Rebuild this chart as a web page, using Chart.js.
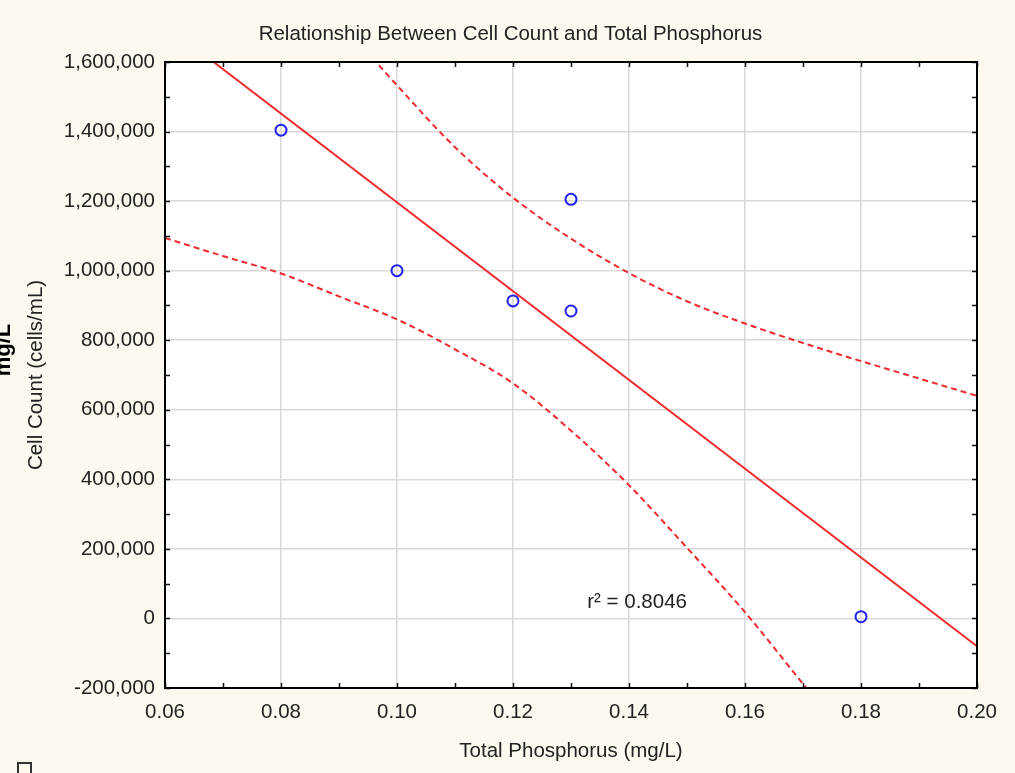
<!DOCTYPE html>
<html>
<head>
<meta charset="utf-8">
<script src="https://cdn.jsdelivr.net/npm/chart.js@4/dist/chart.umd.min.js"></script>
<style>
  html,body{margin:0;padding:0;background:#fdf9ef;}
  canvas{display:block;}
</style>
</head>
<body>
<canvas id="cellC" width="1015" height="773"></canvas>
<script>
// measured samples
const phosphorus=[0.08,0.10,0.12,0.13,0.13,0.18];
const cellCount=[1404000,1000000,913000,1205000,884000,5000];

// fitted line (ends read at the plot edges)
const fitX=[0.06,0.20];
const fitY=[1707000,-80000];

// 95% bands
const upperX=[0.09,0.10,0.11,0.12,0.13,0.14,0.15,0.16,0.17,0.18,0.19,0.20];
const upperY=[1720000,1533000,1355000,1210000,1092000,993000,912000,848000,792000,740000,690000,640000];
const lowerX=[0.06,0.07,0.08,0.09,0.10,0.11,0.12,0.13,0.14,0.15,0.16,0.17,0.18];
const lowerY=[1094000,1042000,992000,926000,860000,774000,676000,540000,383000,203000,18000,-188000,-390000];

const xTicks=[0.06,0.08,0.10,0.12,0.14,0.16,0.18,0.20];
const yTicks=[-200000,0,200000,400000,600000,800000,1000000,1200000,1400000,1600000];
const xMinor=[0.07,0.09,0.11,0.13,0.15,0.17,0.19];
const yMinor=[-100000,100000,300000,500000,700000,900000,1100000,1300000,1500000];

const chartTitle="Relationship Between Cell Count and Total Phosphorus";
const rLabel="r² = 0.8046";

const FONT="'Liberation Sans', Arial, sans-serif";
const FS=20.5;
const RED="#ee2b2f";

function pairs(xs,ys){
    const out=[];
    for(let i=0;i<xs.length;i++) out.push({x:xs[i],y:ys[i]});
    return out;
}

const framePlugin={
    id:"frame",
    beforeDraw(chart){
        const c=chart.ctx, a=chart.chartArea;
        c.save();
        c.fillStyle="#fdf9ef";
        c.fillRect(0,0,chart.width,chart.height);
        c.fillStyle="#ffffff";
        c.fillRect(a.left,a.top,a.right-a.left,a.bottom-a.top);
        c.restore();
    },
    afterDraw(chart){
        const c=chart.ctx, a=chart.chartArea;
        const xs=chart.scales.x, ys=chart.scales.y;
        c.save();
        // inner ticks on all four sides
        c.strokeStyle="#111";
        c.lineWidth=1.5;
        c.beginPath();
        xTicks.concat(xMinor).forEach(v=>{
            const px=Math.round(xs.getPixelForValue(v))+0.5;
            c.moveTo(px,a.bottom); c.lineTo(px,a.bottom-5);
            c.moveTo(px,a.top); c.lineTo(px,a.top+5);
        });
        yTicks.concat(yMinor).forEach(v=>{
            const py=Math.round(ys.getPixelForValue(v))+0.5;
            c.moveTo(a.left,py); c.lineTo(a.left+5,py);
            c.moveTo(a.right,py); c.lineTo(a.right-5,py);
        });
        c.stroke();
        // plot border
        c.lineWidth=2;
        c.strokeStyle="#000";
        c.strokeRect(a.left,a.top,a.right-a.left,a.bottom-a.top);

        // title, centred on the page rather than the plot
        c.fillStyle="#222";
        c.font=FS+"px "+FONT;
        c.textAlign="center";
        c.textBaseline="middle";
        c.fillText(chartTitle,chart.width/2+3,34);

        // r squared note
        c.textBaseline="middle";
        c.textAlign="left";
        c.fillText(rLabel,xs.getPixelForValue(0.1328),ys.getPixelForValue(45000));

        // leftover bits at the page edge
        c.save();
        c.translate(10,350);
        c.rotate(-Math.PI/2);
        c.font="bold 22px "+FONT;
        c.fillStyle="#000";
        c.textAlign="center";
        c.textBaseline="alphabetic";
        c.fillText("mg/L",0,0);
        c.restore();
        c.strokeStyle="#333";
        c.lineWidth=2;
        c.strokeRect(18,763,13,14);
        c.restore();
    }
};

const ctx=document.getElementById("cellC");
const chart=new Chart(ctx,{
    type:"scatter",
    data:{
        datasets:[
            {
                label:"Samples",
                data:pairs(phosphorus,cellCount),
                showLine:false,
                pointStyle:"circle",
                pointRadius:5.5,
                pointBorderWidth:2,
                borderColor:"#2323f0",
                backgroundColor:"transparent",
                order:0
            },
            {
                label:"Fit",
                data:pairs(fitX,fitY),
                showLine:true,
                borderColor:RED,
                borderWidth:2,
                pointRadius:0,
                order:1
            },
            {
                label:"Upper",
                data:pairs(upperX,upperY),
                showLine:true,
                borderColor:RED,
                borderWidth:2,
                borderDash:[6,4],
                cubicInterpolationMode:"monotone",
                pointRadius:0,
                order:1
            },
            {
                label:"Lower",
                data:pairs(lowerX,lowerY),
                showLine:true,
                borderColor:RED,
                borderWidth:2,
                borderDash:[6,4],
                cubicInterpolationMode:"monotone",
                pointRadius:0,
                order:1
            }
        ]
    },
    options:{
        responsive:false,
        animation:false,
        layout:{padding:{top:62,right:38,bottom:0,left:0}},
        plugins:{
            legend:{display:false},
            tooltip:{enabled:false},
            title:{display:false}
        },
        scales:{
            x:{
                type:"linear",
                min:0.06,
                max:0.20,
                afterBuildTicks(s){ s.ticks=xTicks.map(v=>({value:v})); },
                afterFit(s){ s.height=85; },
                ticks:{
                    color:"#222",
                    padding:12,
                    maxRotation:0,
                    font:{family:FONT,size:FS},
                    callback:(v)=>Number(v).toFixed(2)
                },
                grid:{color:"#d9d9d9",lineWidth:1.5,drawTicks:false},
                border:{display:false},
                title:{
                    display:true,
                    text:"Total Phosphorus (mg/L)",
                    color:"#222",
                    font:{family:FONT,size:FS,lineHeight:1.2},
                    padding:{top:0,bottom:9.5}
                }
            },
            y:{
                type:"linear",
                min:-200000,
                max:1600000,
                afterBuildTicks(s){ s.ticks=yTicks.map(v=>({value:v})); },
                afterFit(s){ s.width=165; },
                ticks:{
                    color:"#222",
                    padding:10,
                    font:{family:FONT,size:FS},
                    callback:(v)=>Number(v).toLocaleString("en-US")
                },
                grid:{color:"#d9d9d9",lineWidth:1.5,drawTicks:false},
                border:{display:false},
                title:{
                    display:true,
                    text:"Cell Count (cells/mL)",
                    color:"#222",
                    font:{family:FONT,size:FS,lineHeight:1.2},
                    padding:{top:24.5,bottom:0}
                }
            }
        }
    },
    plugins:[framePlugin]
});
</script>
</body>
</html>
